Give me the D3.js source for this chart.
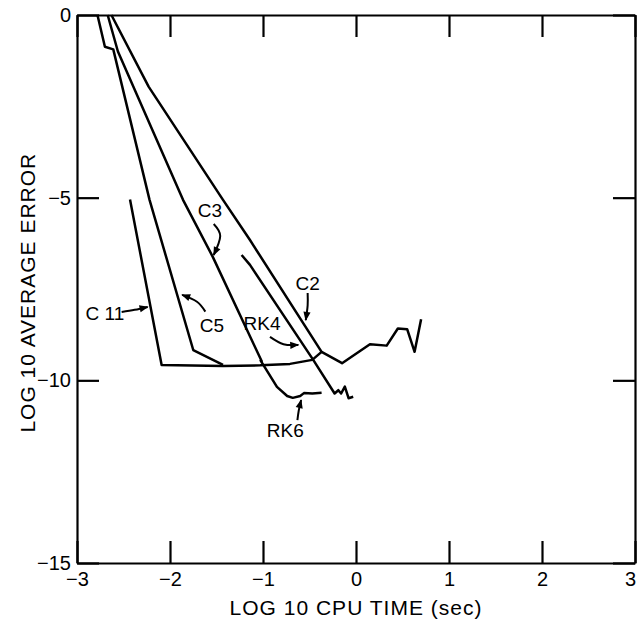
<!DOCTYPE html>
<html>
<head>
<meta charset="utf-8">
<script src="https://cdn.jsdelivr.net/npm/d3@7"></script>
<style>
  body { margin: 0; background: #fff; }
  text { font-family: "Liberation Sans", Arial, sans-serif; fill: #000; }
</style>
</head>
<body>
<script>
// Curves: [log10 cpu time, log10 average error]
const c11 = [[-2.43, -5.05], [-2.09, -9.58], [-1.43, -9.61], [-1.03, -9.59], [-0.71, -9.55], [-0.47, -9.44], [-0.37, -9.22]];
const c5 = [[-2.78, 0], [-2.70, -0.87], [-2.61, -0.94], [-2.22, -5.06], [-1.75, -9.17], [-1.43, -9.58]];
const c3 = [[-2.67, 0], [-2.56, -1.0], [-1.86, -5.06], [-1.54, -6.62], [-1.01, -9.50]];
const rk6 = [[-1.03, -9.44], [-0.85, -10.18], [-0.74, -10.43], [-0.68, -10.48], [-0.60, -10.43], [-0.56, -10.35], [-0.47, -10.36], [-0.37, -10.34]];
const c2 = [[-2.63, 0], [-2.23, -1.96], [-1.43, -5.06], [-1.14, -6.16], [-0.37, -9.22], [-0.15, -9.53], [0.15, -9.01], [0.33, -9.05], [0.45, -8.58], [0.55, -8.60], [0.63, -9.22], [0.70, -8.33]];
const rk4 = [[-1.23, -6.57], [-1.14, -6.84], [-0.46, -9.44], [-0.23, -10.36], [-0.19, -10.27], [-0.16, -10.36], [-0.12, -10.17], [-0.08, -10.49], [-0.03, -10.45]];

const series = [c11, c5, c3, rk6, c2, rk4];

// Tick values
const xTicks = [-3, -2, -1, 0, 1, 2, 3];
const yTicks = [0, -5, -10, -15];

// Curve labels and their arrows (data units)
const labelText = ["C3", "C2", "C 11", "C5", "RK4", "RK6"];
const labelPos = [[-1.57, -5.34], [-0.52, -7.34], [-2.70, -8.16], [-1.55, -8.49], [-1.01, -8.43], [-0.76, -11.36]];
const arrowPts = [
    [[-1.53, -5.72], [-1.46, -6.05], [-1.53, -6.57]],
    [[-0.52, -7.61], [-0.52, -7.95], [-0.54, -8.35]],
    [[-2.52, -8.13], [-2.38, -8.07], [-2.24, -7.99]],
    [[-1.62, -8.12], [-1.71, -7.85], [-1.87, -7.66]],
    [[-0.925, -8.81], [-0.78, -9.01], [-0.62, -9.03]],
    [[-0.63, -11.09], [-0.615, -10.82], [-0.59, -10.54]]
];

const W = 640, H = 631;
const x = d3.scaleLinear().domain([-3, 3]).range([77, 635]);
const y = d3.scaleLinear().domain([0, -15]).range([15, 563]);

const svg = d3.select("body").append("svg")
    .attr("width", W)
    .attr("height", H);

svg.append("defs").append("marker")
    .attr("id", "head")
    .attr("viewBox", "0 0 10 10")
    .attr("refX", 9).attr("refY", 5)
    .attr("markerWidth", 10).attr("markerHeight", 9)
    .attr("markerUnits", "userSpaceOnUse")
    .attr("orient", "auto")
    .append("path")
    .attr("d", "M0,1L10,5L0,9z")
    .attr("fill", "#000");

// Axes with inward ticks
const tick = 22;
const fmt = d3.format("d");
const styleAxis = g => {
    g.selectAll(".domain").attr("stroke", "#000").attr("stroke-width", 2.2);
    g.selectAll(".tick line").attr("stroke", "#000").attr("stroke-width", 2.2);
    g.selectAll(".tick text").style("font-size", "20px").attr("fill", "#000");
};

svg.append("g")
    .attr("transform", `translate(0,${y(-15)})`)
    .call(d3.axisBottom(x).tickValues(xTicks).tickFormat(fmt).tickSizeInner(-tick).tickSizeOuter(0).tickPadding(9))
    .call(styleAxis)
    .call(g => g.selectAll(".tick text").filter(d => d === 3).attr("dx", "-5"));
svg.append("g")
    .attr("transform", `translate(0,${y(0)})`)
    .call(d3.axisTop(x).tickValues(xTicks).tickSizeInner(-tick).tickSizeOuter(0).tickFormat(""))
    .call(styleAxis);
svg.append("g")
    .attr("transform", `translate(${x(-3)},0)`)
    .call(d3.axisLeft(y).tickValues(yTicks).tickFormat(fmt).tickSizeInner(-tick).tickSizeOuter(0).tickPadding(6))
    .call(styleAxis);
svg.append("g")
    .attr("transform", `translate(${x(3)},0)`)
    .call(d3.axisRight(y).tickValues(yTicks).tickSizeInner(-tick).tickSizeOuter(0).tickFormat(""))
    .call(styleAxis);

// Axis titles
svg.append("text")
    .attr("x", x(0)).attr("y", 615)
    .attr("text-anchor", "middle")
    .style("font-size", "21px")
    .style("letter-spacing", "1px")
    .text("LOG 10 CPU TIME (sec)");
svg.append("text")
    .attr("transform", `translate(35,${y(-7.6)}) rotate(-90)`)
    .attr("text-anchor", "middle")
    .style("font-size", "21px")
    .style("letter-spacing", "1px")
    .text("LOG 10 AVERAGE ERROR");

// Curves
const line = d3.line().x(d => x(d[0])).y(d => y(d[1]));
svg.append("g").selectAll("path")
    .data(series)
    .enter().append("path")
    .attr("d", line)
    .attr("fill", "none")
    .attr("stroke", "#000")
    .attr("stroke-width", 2.5)
    .attr("stroke-linejoin", "round");

// Labels and arrows
const curved = d3.line().x(d => x(d[0])).y(d => y(d[1])).curve(d3.curveNatural);
svg.append("g").selectAll("path")
    .data(arrowPts)
    .enter().append("path")
    .attr("d", curved)
    .attr("fill", "none")
    .attr("stroke", "#000")
    .attr("stroke-width", 2)
    .attr("marker-end", "url(#head)");

svg.append("g").selectAll("text")
    .data(labelText)
    .enter().append("text")
    .attr("x", (d, i) => x(labelPos[i][0]))
    .attr("y", (d, i) => y(labelPos[i][1]))
    .attr("dy", "0.35em")
    .attr("text-anchor", "middle")
    .style("font-size", "19px")
    .text(d => d);
</script>
</body>
</html>
